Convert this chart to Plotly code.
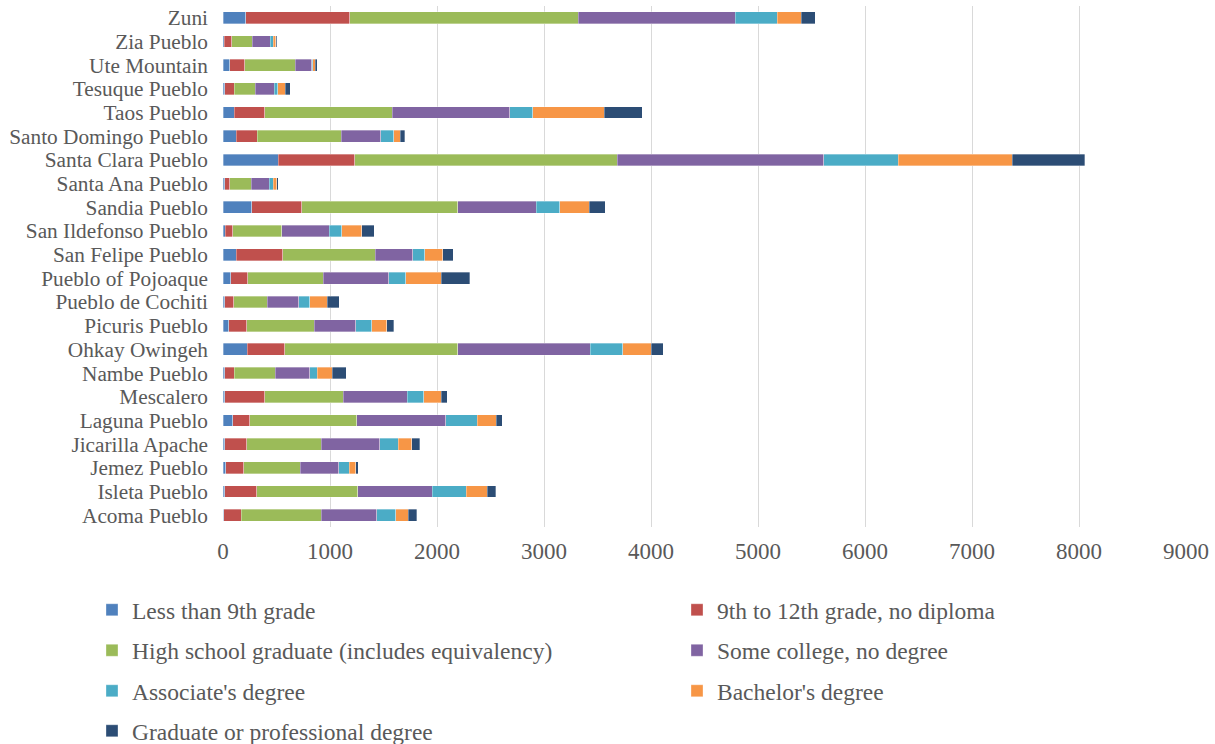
import plotly.graph_objects as go

# Tribal areas, listed bottom-to-top as they appear on the category axis
areas = [
    "Acoma Pueblo", "Isleta Pueblo", "Jemez Pueblo", "Jicarilla Apache",
    "Laguna Pueblo", "Mescalero", "Nambe Pueblo", "Ohkay Owingeh",
    "Picuris Pueblo", "Pueblo de Cochiti", "Pueblo of Pojoaque",
    "San Felipe Pueblo", "San Ildefonso Pueblo", "Sandia Pueblo",
    "Santa Ana Pueblo", "Santa Clara Pueblo", "Santo Domingo Pueblo",
    "Taos Pueblo", "Tesuque Pueblo", "Ute Mountain", "Zia Pueblo", "Zuni",
]

less_than_9th = [7, 18, 26, 18, 93, 18, 18, 226, 52, 18, 74, 122, 22, 270, 18, 518, 126, 104, 18, 63, 10, 211]
grade_9_to_12 = [163, 297, 166, 204, 155, 371, 89, 351, 170, 82, 155, 437, 71, 466, 45, 714, 192, 285, 86, 141, 71, 974]
high_school = [748, 944, 530, 696, 1003, 736, 381, 1617, 633, 314, 707, 866, 455, 1458, 200, 2454, 785, 1191, 199, 473, 193, 2135]
some_college = [518, 695, 359, 548, 830, 596, 322, 1240, 385, 293, 614, 347, 444, 733, 170, 1930, 373, 1099, 174, 152, 166, 1465]
associates = [177, 318, 100, 174, 296, 156, 71, 304, 151, 103, 159, 115, 118, 222, 37, 693, 122, 214, 34, 11, 30, 395]
bachelors = [119, 196, 59, 122, 178, 162, 140, 262, 137, 163, 330, 167, 189, 274, 33, 1066, 60, 670, 70, 22, 22, 222]
graduate = [81, 81, 22, 78, 56, 56, 130, 115, 67, 115, 266, 96, 114, 151, 15, 678, 40, 356, 48, 19, 11, 132]

series_names = [
    "Less than 9th grade",
    "9th to 12th grade, no diploma",
    "High school graduate (includes equivalency)",
    "Some college, no degree",
    "Associate's degree",
    "Bachelor's degree",
    "Graduate or professional degree",
]
series_values = [less_than_9th, grade_9_to_12, high_school, some_college,
                 associates, bachelors, graduate]
series_colors = ["#4F81BD", "#C0504D", "#9BBB59", "#8064A2",
                 "#4BACC6", "#F79646", "#2C4D75"]

x_ticks = [0, 1000, 2000, 3000, 4000, 5000, 6000, 7000, 8000, 9000]

FONT = "Liberation Serif, Times New Roman, serif"
TEXT_COLOR = "#595959"

# legend grid: two columns, four rows (one legend box per entry)
col_x = [92, 677]
row_y = [610, 650.5, 691, 731]
legend_keys = ["legend"] + [f"legend{i}" for i in range(2, 8)]

fig = go.Figure()
legends = {}
for i, (name, vals, color) in enumerate(zip(series_names, series_values, series_colors)):
    key = legend_keys[i]
    fig.add_trace(go.Bar(
        y=areas, x=vals, name=name, orientation="h",
        marker=dict(color=color, line=dict(color="rgba(255,255,255,0.55)", width=0.6)),
        legend=key,
    ))
    legends[key] = dict(
        orientation="h", xref="container", yref="container",
        x=col_x[i % 2] / 1215, y=1 - row_y[i // 2] / 744,
        xanchor="left", yanchor="middle",
        font=dict(family=FONT, size=23.5, color=TEXT_COLOR),
        bgcolor="rgba(0,0,0,0)",
    )

fig.update_layout(
    width=1215, height=744,
    margin=dict(l=223, r=27, t=6, b=217),
    barmode="stack", bargap=0.5,
    plot_bgcolor="white", paper_bgcolor="white",
    showlegend=True,
    xaxis=dict(
        range=[0, 9000], tickvals=x_ticks, ticktext=[str(v) for v in x_ticks],
        showgrid=True, gridcolor="#D9D9D9", gridwidth=1.3,
        zeroline=False, showline=False, ticks="",
        tickfont=dict(family=FONT, size=23, color=TEXT_COLOR),
        ticklabelstandoff=8, fixedrange=True,
    ),
    yaxis=dict(
        type="category", categoryorder="array", categoryarray=areas,
        tickmode="array", tickvals=areas, ticktext=areas,
        showgrid=False, zeroline=False, showline=False, ticks="",
        tickfont=dict(family=FONT, size=21.3, color=TEXT_COLOR),
        ticklabelstandoff=14, fixedrange=True,
    ),
    **legends,
)

fig.write_html("out.html")
